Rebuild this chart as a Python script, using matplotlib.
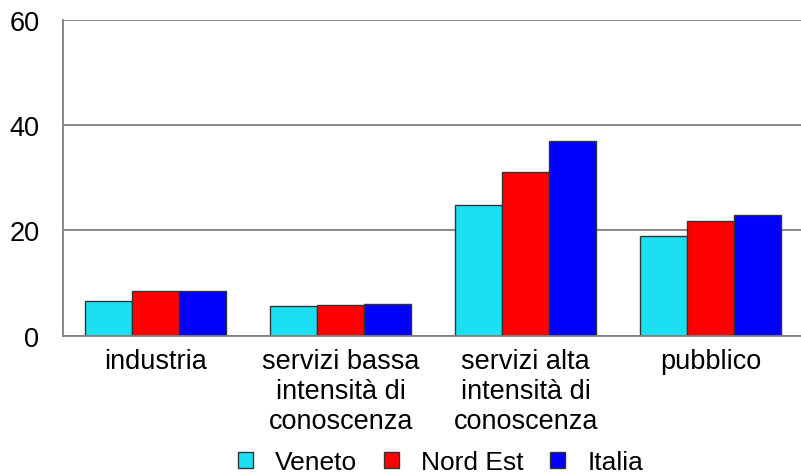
import matplotlib
matplotlib.use("Agg")
import matplotlib.pyplot as plt
import numpy as np

categories = ["industria", "servizi bassa\nintensità di\nconoscenza",
              "servizi alta\nintensità di\nconoscenza", "pubblico"]
series_names = ["Veneto", "Nord Est", "Italia"]
veneto = [6.6, 5.7, 24.9, 18.9]
nord_est = [8.4, 5.9, 31.1, 21.8]
italia = [8.4, 6.1, 36.9, 23.0]
yticks = [0, 20, 40, 60]

colors = ["#1AE0F2", "#FF0000", "#0000FF"]

plt.rcParams["font.family"] = ["Liberation Sans", "DejaVu Sans"]

W, H = 801, 477
fig = plt.figure(figsize=(W / 100, H / 100), dpi=100)
left, right, top, bottom = 63, 803.5, 20.7, 336.7
ax = fig.add_axes([left / W, 1 - bottom / H, (right - left) / W, (bottom - top) / H])

x = np.arange(len(categories))
bw = 0.254
for i, (vals, name) in enumerate(zip([veneto, nord_est, italia], series_names)):
    ax.bar(x + (i - 1) * bw, vals, width=bw, color=colors[i], edgecolor="#333333",
           linewidth=1.0, label=name, zorder=3)

ax.set_xlim(-0.5, len(categories) - 0.5)
ax.set_ylim(0, 60)
ax.set_yticks(yticks)
ax.set_yticklabels([str(v) for v in yticks], fontsize=19.5)
ax.set_xticks(x)
ax.set_xticklabels(categories, fontsize=19.5, linespacing=1.2)
ax.tick_params(axis="both", length=0)
ax.tick_params(axis="y", pad=17)
ax.tick_params(axis="x", pad=9)

ax.yaxis.grid(True, color="#808080", linewidth=1.3, zorder=0)
for s in ["top", "right"]:
    ax.spines[s].set_visible(False)
for s in ["left", "bottom"]:
    ax.spines[s].set_color("#808080")
    ax.spines[s].set_linewidth(1.3)
ax.spines["bottom"].set_zorder(4)

fig.legend(loc="center", bbox_to_anchor=(440.5 / W, 1 - 463 / H), ncol=3,
           frameon=False, fontsize=19, handlelength=0.57, handleheight=0.57,
           handletextpad=0.85, columnspacing=1.0, borderpad=0.1)

fig.savefig("out.png", dpi=100)
